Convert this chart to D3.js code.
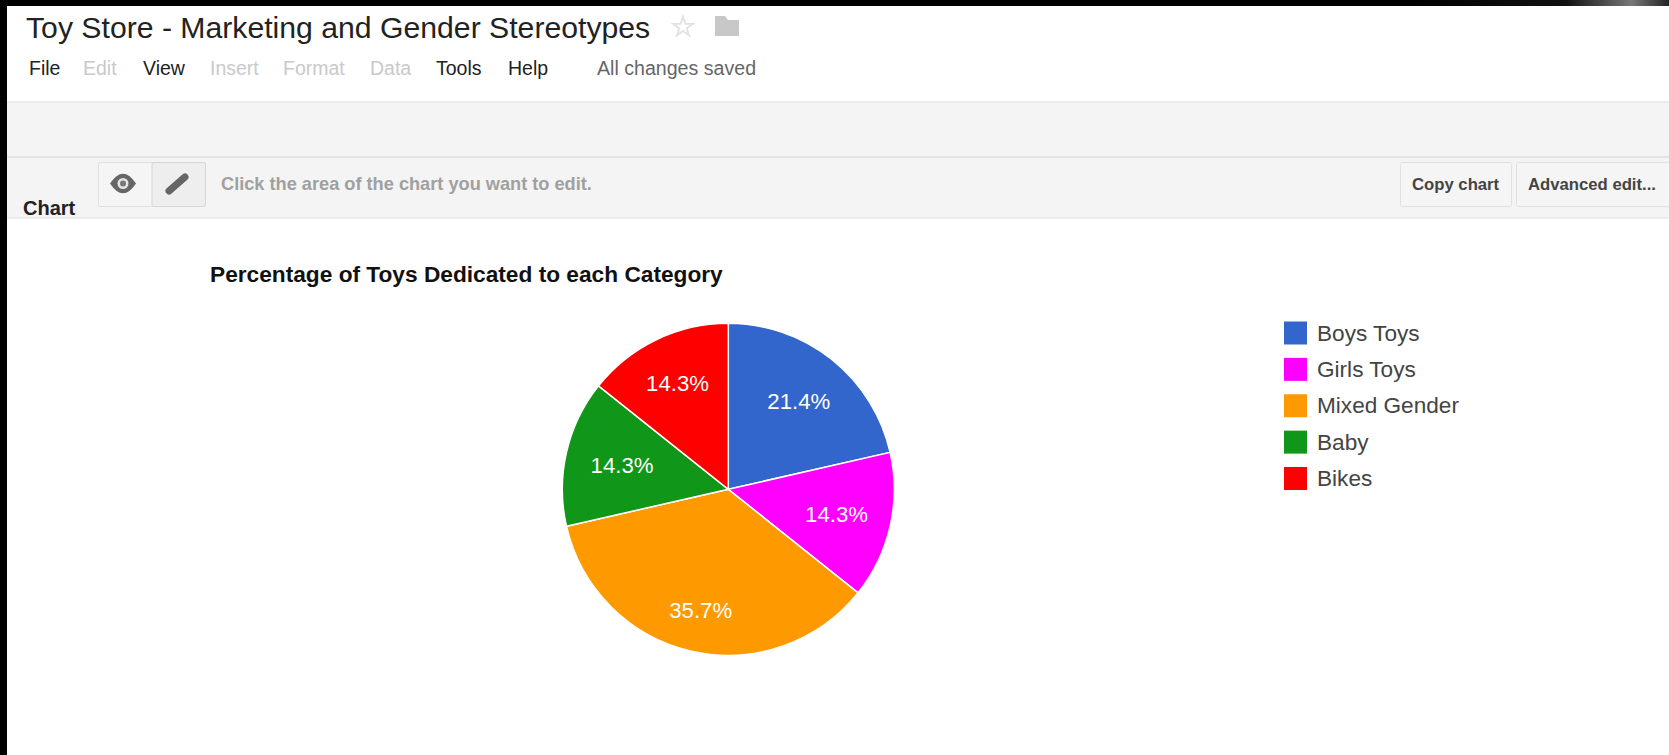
<!DOCTYPE html>
<html>
<head>
<meta charset="utf-8">
<title>Toy Store - Marketing and Gender Stereotypes</title>
<script src="https://cdn.jsdelivr.net/npm/d3@7/dist/d3.min.js"></script>
<style>
  html, body { margin: 0; padding: 0; background: #fff; overflow: hidden; }
  svg { display: block; }
  text { font-family: "Liberation Sans", Arial, sans-serif; }
</style>
</head>
<body>
<svg id="page" width="1669" height="755"></svg>
<script>
// Chart data
const categories = ["Boys Toys", "Girls Toys", "Mixed Gender", "Baby", "Bikes"];
const toyCounts = [3, 2, 5, 2, 2];
const sliceColors = ["#3366cc", "#ff00ff", "#ff9900", "#109618", "#ff0000"];

// Editor menu
const menuItems = ["File", "Edit", "View", "Insert", "Format", "Data", "Tools", "Help"];
const menuEnabled = [true, false, true, false, false, false, true, true];
const menuLeft = [29, 83, 143, 210, 283, 370, 436, 508];

// Distance of each percentage label from the pie centre
const labelRadius = [113, 111, 124, 109, 117];

const W = 1669, H = 755;
const svg = d3.select("#page");
const defs = svg.append("defs");

// Window frame: black border with a light glint in the top right corner
const glint = defs.append("linearGradient").attr("id", "glint");
[[0, "#000"], [0.62, "#111"], [0.86, "#777"], [1, "#222"]].forEach(([o, c]) =>
  glint.append("stop").attr("offset", o).attr("stop-color", c));
svg.append("rect").attr("width", W).attr("height", H).attr("fill", "#000");
svg.append("rect").attr("x", 1400).attr("width", W - 1400).attr("height", 6).attr("fill", "url(#glint)");
svg.append("rect").attr("x", 7).attr("y", 6).attr("width", W - 7).attr("height", H - 6).attr("fill", "#fff");

// Document header
const header = svg.append("g");
header.append("text").attr("x", 26).attr("y", 38)
  .attr("font-size", 30.2).attr("fill", "#222")
  .text("Toy Store - Marketing and Gender Stereotypes");

const star = d3.symbol().type(d3.symbolStar).size(120)();
header.append("path").attr("d", star).attr("transform", "translate(683,27)")
  .attr("fill", "none").attr("stroke", "#e2e2e2").attr("stroke-width", 1.8);
header.append("path").attr("fill", "#c8c8c8")
  .attr("d", "M715,16h10l3,4h11v16h-24z");

header.selectAll("text.menu").data(menuItems).join("text")
  .attr("class", "menu")
  .attr("x", (d, i) => menuLeft[i]).attr("y", 75)
  .attr("font-size", 19.5)
  .attr("fill", (d, i) => menuEnabled[i] ? "#222" : "#c9c9c9")
  .text(d => d);
header.append("text").attr("x", 597).attr("y", 75)
  .attr("font-size", 19.6).attr("fill", "#666").text("All changes saved");

// Toolbar bands
svg.append("rect").attr("x", 7).attr("y", 102).attr("width", W).attr("height", 116).attr("fill", "#f4f4f4");
[[102, "#e6e6e6"], [157, "#dedede"], [218, "#e8e8e8"]].forEach(([y, c]) =>
  svg.append("line").attr("x1", 7).attr("x2", W).attr("y1", y).attr("y2", y)
    .attr("stroke", c).attr("stroke-width", 1.5));

// View / edit toggle
const toggle = svg.append("g");
toggle.append("rect").attr("x", 98.5).attr("y", 162.5).attr("width", 107).attr("height", 44).attr("rx", 2)
  .attr("fill", "#f5f5f5").attr("stroke", "#e0e0e0");
toggle.append("rect").attr("x", 152).attr("y", 162.5).attr("width", 53.5).attr("height", 44).attr("rx", 2)
  .attr("fill", "#eeeeee").attr("stroke", "#d6d6d6");
toggle.append("path").attr("fill", "#666")
  .attr("d", "M110,183.5Q123,164 136,183.5Q123,203 110,183.5z");
toggle.append("circle").attr("cx", 123).attr("cy", 183.5).attr("r", 5.5).attr("fill", "#e4e4e4");
toggle.append("circle").attr("cx", 123).attr("cy", 183.5).attr("r", 3).attr("fill", "#777");
toggle.append("path").attr("fill", "none").attr("stroke", "#666")
  .attr("stroke-width", 7).attr("stroke-linecap", "round")
  .attr("d", "M169,191L185,177");

svg.append("text").attr("x", 221).attr("y", 190)
  .attr("font-size", 18.2).attr("font-weight", "bold").attr("fill", "#a0a0a0")
  .text("Click the area of the chart you want to edit.");
svg.append("text").attr("x", 23).attr("y", 215)
  .attr("font-size", 20).attr("font-weight", "bold").attr("fill", "#222")
  .text("Chart");

// Right-hand toolbar buttons
const buttons = [
  { label: "Copy chart", x: 1400, w: 111 },
  { label: "Advanced edit...", x: 1516, w: 170 }
];
const btn = svg.selectAll("g.btn").data(buttons).join("g").attr("class", "btn");
btn.append("rect").attr("x", d => d.x + 0.5).attr("y", 162.5).attr("width", d => d.w).attr("height", 44).attr("rx", 2)
  .attr("fill", "#f5f5f5").attr("stroke", "#e0e0e0");
btn.append("text").attr("x", d => d.x + 12).attr("y", 190)
  .attr("font-size", 16.7).attr("font-weight", "bold").attr("fill", "#444")
  .text(d => d.label);

// Chart title
svg.append("text").attr("x", 210).attr("y", 282)
  .attr("font-size", 22.7).attr("font-weight", "bold").attr("fill", "#111")
  .text("Percentage of Toys Dedicated to each Category");

// Pie
const cx = 728.3, cy = 489.3, outerR = 166;
const total = d3.sum(toyCounts);
const color = d3.scaleOrdinal().domain(categories).range(sliceColors);
const pieData = d3.pie().sort(null).value(d => d.value)(
  categories.map((name, i) => ({ name, value: toyCounts[i] })));
const arc = d3.arc().innerRadius(0).outerRadius(outerR);
const pie = svg.append("g").attr("transform", `translate(${cx},${cy})`);

pie.selectAll("path").data(pieData).join("path")
  .attr("d", arc)
  .attr("fill", d => color(d.data.name))
  .attr("stroke", "#fff").attr("stroke-width", 1.5);

pie.selectAll("text").data(pieData).join("text")
  .attr("transform", (d, i) => {
    const [x, y] = d3.arc().innerRadius(labelRadius[i]).outerRadius(labelRadius[i]).centroid(d);
    return `translate(${x},${y})`;
  })
  .attr("text-anchor", "middle").attr("dy", "0.34em")
  .attr("font-size", 22.2).attr("fill", "#fff")
  .text(d => d3.format(".1%")(d.data.value / total));

// Legend
const legendY = d3.scalePoint().domain(categories).range([333, 478.5]);
const legend = svg.selectAll("g.legend").data(categories).join("g")
  .attr("class", "legend")
  .attr("transform", d => `translate(1284,${legendY(d)})`);
legend.append("rect").attr("y", -11.5).attr("width", 23).attr("height", 23)
  .attr("fill", d => color(d));
legend.append("text").attr("x", 33).attr("dy", "0.34em")
  .attr("font-size", 22.6).attr("fill", "#444")
  .text(d => d);
</script>
</body>
</html>
